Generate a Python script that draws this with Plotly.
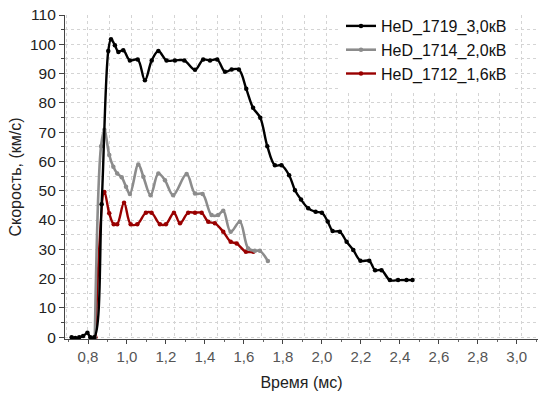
import plotly.graph_objects as go
import numpy as np

# --- data ---
black_x = [0.716, 0.735, 0.755, 0.775, 0.797, 0.812, 0.832, 0.870, 0.904, 0.918, 0.938, 0.956, 0.981,
           1.015, 1.055, 1.092, 1.127, 1.161, 1.203, 1.246, 1.294, 1.349, 1.391, 1.426, 1.463,
           1.503, 1.537, 1.574, 1.612, 1.647, 1.684, 1.720, 1.759, 1.793, 1.832, 1.862, 1.893,
           1.930, 1.968, 2.000, 2.030, 2.055, 2.092, 2.127, 2.161, 2.198, 2.243, 2.273, 2.306,
           2.349, 2.391, 2.434, 2.465]
black_y = [0.0, -0.3, 0.0, 0.4, 1.5, 0.0, 0.0, 45.4, 97.7, 101.7, 99.7, 97.4, 98.0,
           94.5, 94.8, 87.7, 94.5, 97.7, 94.5, 94.5, 94.5, 91.3, 94.8, 94.5, 94.8,
           90.6, 91.4, 91.4, 84.8, 78.3, 74.9, 65.2, 58.7, 58.7, 55.3, 50.2, 47.0,
           44.0, 42.8, 42.5, 39.5, 36.3, 36.0, 32.6, 29.8, 26.1, 26.1, 22.9, 22.9,
           19.5, 19.5, 19.5, 19.5]

gray_x = [0.835, 0.867, 0.884, 0.909, 0.930, 0.950, 0.973, 0.995, 1.015, 1.058, 1.084, 1.121,
          1.161, 1.195, 1.237, 1.306, 1.349, 1.388, 1.434, 1.468, 1.494, 1.532, 1.579, 1.622,
          1.656, 1.682, 1.723]
gray_y = [0.0, 65.2, 70.8, 62.2, 58.2, 55.9, 54.6, 51.4, 48.9, 59.0, 54.8, 48.5,
          55.9, 53.6, 48.5, 55.7, 49.1, 48.9, 41.7, 41.7, 43.2, 36.0, 39.4, 30.3,
          29.5, 29.5, 26.0]

red_x = [0.838, 0.884, 0.909, 0.932, 0.950, 0.985, 1.019, 1.053, 1.097, 1.126, 1.169, 1.200,
         1.241, 1.272, 1.314, 1.349, 1.383, 1.417, 1.451, 1.494, 1.532, 1.563, 1.610, 1.648]
red_y = [0.0, 49.6, 42.3, 38.6, 38.6, 45.9, 38.6, 38.6, 42.5, 42.5, 38.6, 38.6,
         42.5, 38.9, 42.5, 42.5, 42.5, 39.4, 38.9, 36.0, 32.6, 32.0, 29.2, 29.2]

names = ["HeD_1719_3,0кВ", "HeD_1714_2,0кВ", "HeD_1712_1,6кВ"]
xtick_vals = [0.8, 1.0, 1.2, 1.4, 1.6, 1.8, 2.0, 2.2, 2.4, 2.6, 2.8, 3.0]
xtick_text = ["0,8", "1,0", "1,2", "1,4", "1,6", "1,8", "2,0", "2,2", "2,4", "2,6", "2,8", "3,0"]

XR = [0.682, 3.109]
YR = [-0.6, 110]
FONT = "Liberation Sans, Arial, sans-serif"
SM = 1.0

fig = go.Figure()
fig.add_trace(go.Scatter(x=red_x, y=red_y, name=names[2], mode="lines+markers",
                         line=dict(color="#990000", width=2.4, shape="spline", smoothing=SM),
                         marker=dict(size=4.5, color="#990000"), legendrank=3))
fig.add_trace(go.Scatter(x=gray_x, y=gray_y, name=names[1], mode="lines+markers",
                         line=dict(color="#8c8c8c", width=2.6, shape="spline", smoothing=SM),
                         marker=dict(size=4.5, color="#8c8c8c"), legendrank=2))
fig.add_trace(go.Scatter(x=black_x, y=black_y, name=names[0], mode="lines+markers",
                         line=dict(color="#000000", width=2.4, shape="spline", smoothing=SM),
                         marker=dict(size=4.5, color="#000000"), legendrank=1))
fig.add_trace(go.Scatter(x=[], y=[], xaxis="x2", showlegend=False, hoverinfo="skip"))

fig.update_layout(
    width=538, height=396,
    margin=dict(l=65, r=0, t=15, b=57),
    paper_bgcolor="white", plot_bgcolor="white",
    font=dict(family=FONT, size=15, color="#222"),
    showlegend=True,
    legend=dict(x=(341 - 65) / 473, y=1.0185, xanchor="left", yanchor="top",
                bgcolor="white", borderwidth=0, font=dict(size=16, color="#111"),
                tracegroupgap=0),
    xaxis=dict(range=XR, tickvals=xtick_vals, ticktext=xtick_text,
               showgrid=False, zeroline=False, showline=True, linecolor="#444", linewidth=1.2,
               ticks="outside", ticklen=4, tickcolor="#444",
               tickfont=dict(size=15, color="#555"),
               minor=dict(tickvals=[round(0.7 + 0.2 * i, 2) for i in range(13)],
                          ticks="outside", ticklen=2, tickcolor="#666", showgrid=False),
               title=dict(text="Время (мс)", font=dict(size=16, color="#222"), standoff=12)),
    xaxis2=dict(range=XR, overlaying="x", side="bottom", showticklabels=False, ticks="",
                tick0=0.7985, dtick=0.1113, showgrid=True, gridcolor="#d4d4d4",
                griddash="dot", gridwidth=1, zeroline=False, showline=False),
    yaxis=dict(range=YR, tick0=0, dtick=10, showgrid=True, gridcolor="#d4d4d4",
               griddash="dot", gridwidth=1, zeroline=False, showline=True,
               linecolor="#444", linewidth=1.2, ticks="outside", ticklen=5, tickcolor="#444",
               tickfont=dict(size=15.5, color="#222"),
               minor=dict(dtick=5, tick0=0, ticks="outside", ticklen=3, tickcolor="#444",
                          showgrid=True, gridcolor="#d4d4d4", griddash="dot"),
               title=dict(text="Скорость, (км/с)", font=dict(size=16, color="#222"), standoff=4)),
)

fig.write_html("out.html")
